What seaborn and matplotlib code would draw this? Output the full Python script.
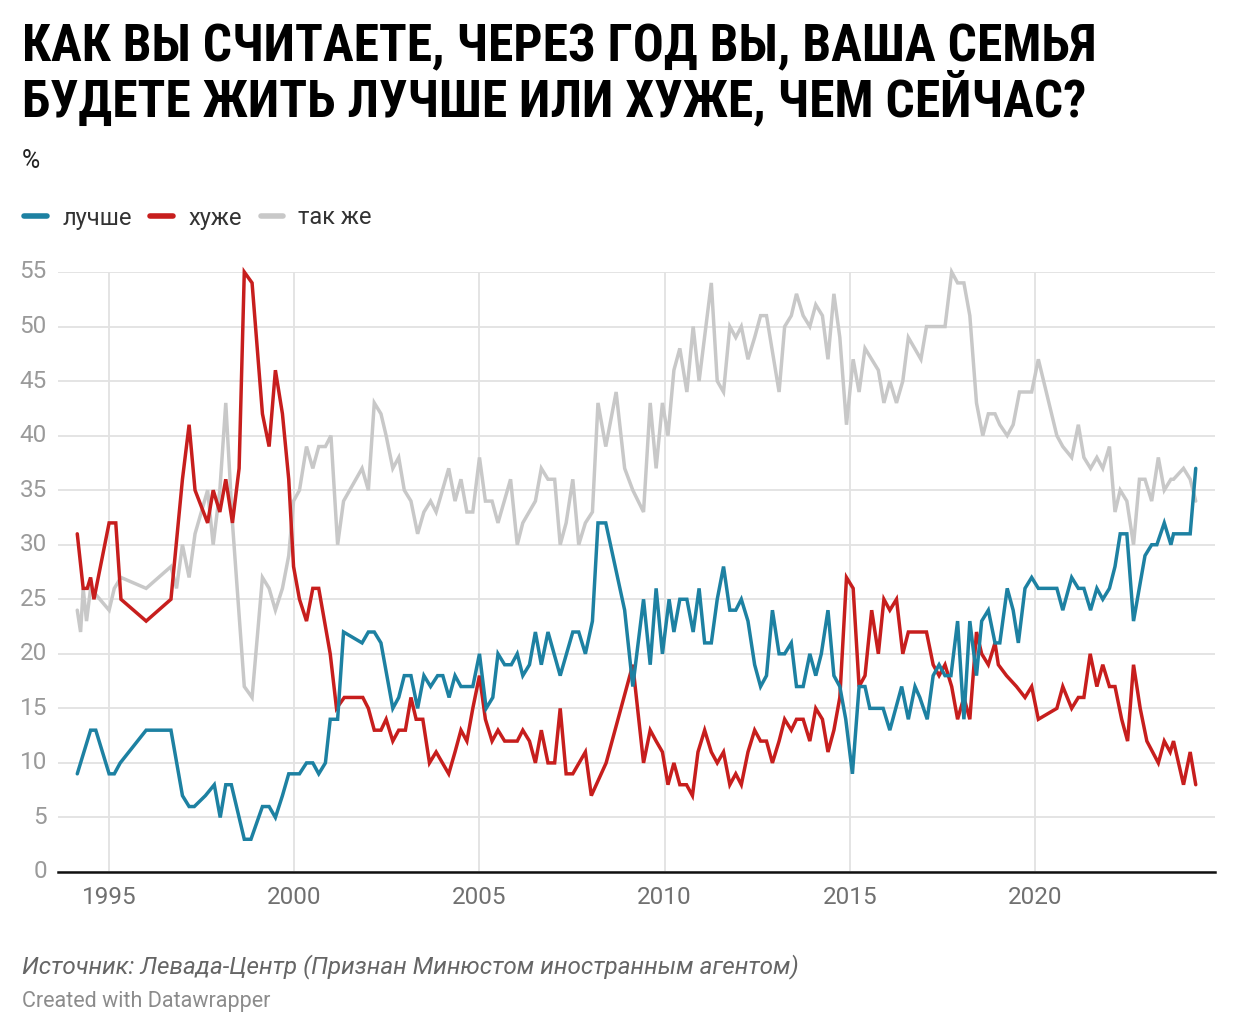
import matplotlib
matplotlib.use("Agg")
import matplotlib.pyplot as plt
import seaborn as sns
import pandas as pd
from matplotlib import font_manager
from matplotlib.lines import Line2D

# ---------------- data ----------------
better_year = [1994.14, 1994.5, 1994.64, 1995.0, 1995.14, 1995.3, 1996.0, 1996.67, 1996.98, 1997.16,
               1997.3, 1997.6, 1997.84, 1998.0, 1998.15, 1998.3, 1998.65, 1998.83, 1999.14, 1999.32,
               1999.49, 1999.68, 1999.85, 2000.14, 2000.33, 2000.5, 2000.66, 2000.84, 2000.97, 2001.17,
               2001.33, 2001.83, 2002.0, 2002.16, 2002.34, 2002.66, 2002.82, 2002.97, 2003.15, 2003.33,
               2003.5, 2003.68, 2003.87, 2004.01, 2004.18, 2004.34, 2004.5, 2004.82, 2005.0, 2005.18,
               2005.36, 2005.5, 2005.68, 2005.86, 2006.02, 2006.17, 2006.35, 2006.51, 2006.67, 2006.85,
               2007.18, 2007.52, 2007.68, 2007.86, 2008.05, 2008.2, 2008.41, 2008.92, 2009.14, 2009.43,
               2009.61, 2009.77, 2009.94, 2010.12, 2010.25, 2010.41, 2010.6, 2010.77, 2010.93, 2011.08,
               2011.26, 2011.42, 2011.59, 2011.76, 2011.92, 2012.07, 2012.25, 2012.43, 2012.59, 2012.75,
               2012.91, 2013.09, 2013.24, 2013.42, 2013.56, 2013.74, 2013.92, 2014.08, 2014.23, 2014.41,
               2014.57, 2014.73, 2014.89, 2015.07, 2015.25, 2015.41, 2015.54, 2015.9, 2016.08, 2016.4,
               2016.58, 2016.76, 2016.89, 2017.09, 2017.25, 2017.41, 2017.57, 2017.73, 2017.91, 2018.08,
               2018.24, 2018.42, 2018.56, 2018.74, 2018.92, 2019.05, 2019.25, 2019.41, 2019.55, 2019.73,
               2019.91, 2020.09, 2020.59, 2020.75, 2020.99, 2021.17, 2021.32, 2021.5, 2021.67, 2021.83,
               2022.01, 2022.16, 2022.3, 2022.48, 2022.66, 2022.97, 2023.15, 2023.29, 2023.49, 2023.67,
               2023.74, 2024.19, 2024.34]
better_val = [9, 13, 13, 9, 9, 10, 13, 13, 7, 6,
              6, 7, 8, 5, 8, 8, 3, 3, 6, 6,
              5, 7, 9, 9, 10, 10, 9, 10, 14, 14,
              22, 21, 22, 22, 21, 15, 16, 18, 18, 15,
              18, 17, 18, 18, 16, 18, 17, 17, 20, 15,
              16, 20, 19, 19, 20, 18, 19, 22, 19, 22,
              18, 22, 22, 20, 23, 32, 32, 24, 17, 25,
              19, 26, 20, 25, 22, 25, 25, 22, 26, 21,
              21, 25, 28, 24, 24, 25, 23, 19, 17, 18,
              24, 20, 20, 21, 17, 17, 20, 18, 20, 24,
              18, 17, 14, 9, 17, 17, 15, 15, 13, 17,
              14, 17, 16, 14, 18, 19, 18, 18, 23, 14,
              23, 18, 23, 24, 21, 21, 26, 24, 21, 26,
              27, 26, 26, 24, 27, 26, 26, 24, 26, 25,
              26, 28, 31, 31, 23, 29, 30, 30, 32, 30,
              31, 31, 37]

worse_year = [1994.14, 1994.3, 1994.41, 1994.5, 1994.59, 1995.0, 1995.18, 1995.32, 1996.0, 1996.67,
              1996.98, 1997.16, 1997.32, 1997.66, 1997.81, 1997.99, 1998.15, 1998.33, 1998.51, 1998.65,
              1998.86, 1999.14, 1999.32, 1999.49, 1999.68, 1999.85, 1999.98, 2000.14, 2000.33, 2000.5,
              2000.66, 2000.97, 2001.14, 2001.35, 2001.85, 2002.0, 2002.16, 2002.34, 2002.48, 2002.66,
              2002.82, 2003.0, 2003.15, 2003.29, 2003.47, 2003.65, 2003.83, 2004.17, 2004.34, 2004.5,
              2004.66, 2004.82, 2005.0, 2005.16, 2005.34, 2005.5, 2005.68, 2006.02, 2006.17, 2006.35,
              2006.51, 2006.67, 2006.85, 2007.03, 2007.18, 2007.34, 2007.52, 2007.86, 2008.02, 2008.42,
              2009.14, 2009.43, 2009.61, 2009.77, 2009.94, 2010.09, 2010.25, 2010.41, 2010.59, 2010.75,
              2010.9, 2011.08, 2011.26, 2011.42, 2011.59, 2011.76, 2011.92, 2012.07, 2012.25, 2012.43,
              2012.59, 2012.75, 2012.91, 2013.09, 2013.24, 2013.42, 2013.56, 2013.74, 2013.92, 2014.08,
              2014.26, 2014.41, 2014.57, 2014.73, 2014.91, 2015.09, 2015.25, 2015.41, 2015.59, 2015.77,
              2015.92, 2016.08, 2016.26, 2016.43, 2016.58, 2017.07, 2017.25, 2017.41, 2017.57, 2017.75,
              2017.91, 2018.08, 2018.24, 2018.42, 2018.56, 2018.74, 2018.92, 2019.01, 2019.23, 2019.5,
              2019.73, 2019.91, 2020.09, 2020.59, 2020.75, 2020.99, 2021.17, 2021.32, 2021.49, 2021.67,
              2021.83, 2022.01, 2022.16, 2022.34, 2022.5, 2022.66, 2022.84, 2023.02, 2023.33, 2023.49,
              2023.65, 2023.74, 2024.01, 2024.19, 2024.34]
worse_val = [31, 26, 26, 27, 25, 32, 32, 25, 23, 25,
             36, 41, 35, 32, 35, 33, 36, 32, 37, 55,
             54, 42, 39, 46, 42, 36, 28, 25, 23, 26,
             26, 20, 15, 16, 16, 15, 13, 13, 14, 12,
             13, 13, 16, 14, 14, 10, 11, 9, 11, 13,
             12, 15, 18, 14, 12, 13, 12, 12, 13, 12,
             10, 13, 10, 10, 15, 9, 9, 11, 7, 10,
             19, 10, 13, 12, 11, 8, 10, 8, 8, 7,
             11, 13, 11, 10, 11, 8, 9, 8, 11, 13,
             12, 12, 10, 12, 14, 13, 14, 14, 12, 15,
             14, 11, 13, 16, 27, 26, 17, 18, 24, 20,
             25, 24, 25, 20, 22, 22, 19, 18, 19, 17,
             14, 16, 14, 22, 20, 19, 21, 19, 18, 17,
             16, 17, 14, 15, 17, 15, 16, 16, 20, 17,
             19, 17, 17, 14, 12, 19, 15, 12, 10, 12,
             11, 12, 8, 11, 8]

same_year = [1994.14, 1994.23, 1994.3, 1994.39, 1994.5, 1995.0, 1995.14, 1995.32, 1996.0, 1996.67,
             1996.82, 1996.98, 1997.16, 1997.32, 1997.66, 1997.81, 1997.99, 1998.15, 1998.33, 1998.65,
             1998.86, 1999.14, 1999.32, 1999.49, 1999.68, 1999.85, 1999.98, 2000.14, 2000.33, 2000.5,
             2000.66, 2000.84, 2000.99, 2001.17, 2001.33, 2001.83, 2002.0, 2002.16, 2002.34, 2002.48,
             2002.66, 2002.82, 2002.97, 2003.15, 2003.33, 2003.5, 2003.68, 2003.83, 2004.17, 2004.34,
             2004.5, 2004.66, 2004.82, 2005.0, 2005.16, 2005.34, 2005.5, 2005.84, 2006.02, 2006.17,
             2006.51, 2006.67, 2006.85, 2007.03, 2007.18, 2007.34, 2007.52, 2007.68, 2007.86, 2008.05,
             2008.2, 2008.41, 2008.69, 2008.92, 2009.14, 2009.43, 2009.61, 2009.77, 2009.94, 2010.09,
             2010.25, 2010.41, 2010.6, 2010.77, 2010.93, 2011.26, 2011.42, 2011.59, 2011.76, 2011.92,
             2012.07, 2012.25, 2012.43, 2012.59, 2012.75, 2013.09, 2013.24, 2013.42, 2013.56, 2013.74,
             2013.92, 2014.08, 2014.26, 2014.41, 2014.57, 2014.73, 2014.91, 2015.09, 2015.25, 2015.41,
             2015.77, 2015.92, 2016.08, 2016.26, 2016.43, 2016.58, 2016.92, 2017.07, 2017.57, 2017.75,
             2017.91, 2018.08, 2018.24, 2018.42, 2018.59, 2018.74, 2018.92, 2019.05, 2019.25, 2019.41,
             2019.58, 2019.91, 2020.09, 2020.59, 2020.75, 2020.99, 2021.17, 2021.32, 2021.5, 2021.67,
             2021.83, 2022.01, 2022.16, 2022.3, 2022.48, 2022.66, 2022.82, 2022.97, 2023.15, 2023.33,
             2023.49, 2023.67, 2023.74, 2024.01, 2024.19, 2024.34]
same_val = [24, 22, 26, 23, 26, 24, 26, 27, 26, 28,
            26, 30, 27, 31, 35, 30, 35, 43, 32, 17,
            16, 27, 26, 24, 26, 29, 34, 35, 39, 37,
            39, 39, 40, 30, 34, 37, 35, 43, 42, 40,
            37, 38, 35, 34, 31, 33, 34, 33, 37, 34,
            36, 33, 33, 38, 34, 34, 32, 36, 30, 32,
            34, 37, 36, 36, 30, 32, 36, 30, 32, 33,
            43, 39, 44, 37, 35, 33, 43, 37, 43, 40,
            46, 48, 44, 50, 45, 54, 45, 44, 50, 49,
            50, 47, 49, 51, 51, 44, 50, 51, 53, 51,
            50, 52, 51, 47, 53, 49, 41, 47, 44, 48,
            46, 43, 45, 43, 45, 49, 47, 50, 50, 55,
            54, 54, 51, 43, 40, 42, 42, 41, 40, 41,
            44, 44, 47, 40, 39, 38, 41, 38, 37, 38,
            37, 39, 33, 35, 34, 30, 36, 36, 34, 38,
            35, 36, 36, 37, 36, 34]

series_names = ["лучше", "хуже", "так же"]
series_colors = ["#1d81a2", "#c71e1d", "#c8c8c8"]
y_ticks = [0, 5, 10, 15, 20, 25, 30, 35, 40, 45, 50, 55]
x_ticks = [1995, 2000, 2005, 2010, 2015, 2020]

title_lines = ["КАК ВЫ СЧИТАЕТЕ, ЧЕРЕЗ ГОД ВЫ, ВАША СЕМЬЯ",
               "БУДЕТЕ ЖИТЬ ЛУЧШЕ ИЛИ ХУЖЕ, ЧЕМ СЕЙЧАС?"]
unit_label = "%"
source_text = "Источник: Левада-Центр (Признан Минюстом иностранным агентом)"
credit_text = "Created with Datawrapper"

# ---------------- build frame ----------------
frames = []
for name, xs, ys in [(series_names[0], better_year, better_val),
                     (series_names[1], worse_year, worse_val),
                     (series_names[2], same_year, same_val)]:
    frames.append(pd.DataFrame({"year": xs, "value": ys, "series": name}))
df = pd.concat(frames, ignore_index=True)

# ---------------- style ----------------
sns.set_theme(style="white")
available = {f.name for f in font_manager.fontManager.ttflist}
body_font = "Roboto" if "Roboto" in available else "DejaVu Sans"
title_font = "Liberation Sans Narrow" if "Liberation Sans Narrow" in available else (
    "Roboto Condensed" if "Roboto Condensed" in available else "Liberation Sans")
plt.rcParams["font.family"] = [body_font, "DejaVu Sans"]

W, H = 1240, 1036
fig = plt.figure(figsize=(W / 100, H / 100), dpi=100)
fig.patch.set_facecolor("white")

L, R, T, B = 58, 1215, 272, 872
ax = fig.add_axes([L / W, 1 - B / H, (R - L) / W, (B - T) / H])

# draw lines: gray first (behind), then red, then blue
order = [series_names[2], series_names[1], series_names[0]]
palette = dict(zip(series_names, series_colors))
for name in order:
    sub = df[df["series"] == name]
    sns.lineplot(data=sub, x="year", y="value", color=palette[name], lw=2.5,
                 ax=ax, sort=False, estimator=None, legend=False)
for ln in ax.lines:
    ln.set_clip_on(False)
    ln.set_solid_joinstyle("miter")

ax.set_xlim(1993.62, 2024.86)
ax.set_ylim(0, 55)
ax.set_yticks(y_ticks)
ax.set_xticks(x_ticks)
ax.set_xlabel("")
ax.set_ylabel("")
ax.grid(True, color="#e2e2e2", lw=1.3)
ax.set_axisbelow(True)
for s in ["top", "right", "left"]:
    ax.spines[s].set_visible(False)
ax.spines["bottom"].set_color("#111111")
ax.spines["bottom"].set_linewidth(1.8)
ax.spines["bottom"].set_zorder(5)
ax.tick_params(axis="y", length=0, pad=8, labelsize=17.5, labelcolor="#9a9a9a")
ax.tick_params(axis="x", length=0, pad=10, labelsize=17.5, labelcolor="#707070")
for lab in ax.get_yticklabels():
    lab.set_va("center")

# ---------------- texts ----------------
t1 = fig.text(22 / W, 1 - 47 / H, title_lines[0], fontsize=34, fontweight="bold",
              family=[title_font, "DejaVu Sans"], color="#000000", va="center", ha="left")
t2 = fig.text(22 / W, 1 - 99 / H, title_lines[1], fontsize=34, fontweight="bold",
              family=[title_font, "DejaVu Sans"], color="#000000", va="center", ha="left")
# fit title width to reference (line 1 spans ~22..1098 px)
fig.canvas.draw()
rend = fig.canvas.get_renderer()
w1 = t1.get_window_extent(rend).width
scale = (1098 - 22) / w1
t1.set_fontsize(34 * scale)
t2.set_fontsize(34 * scale)

fig.text(22 / W, 1 - 161 / H, unit_label, fontsize=18, color="#222222", va="center", ha="left")

handles = [Line2D([0], [0], color=c, lw=4.0, solid_capstyle="round") for c in series_colors]
fig.legend(handles, series_names, loc="center left", bbox_to_anchor=(3 / W, 1 - 218 / H),
           ncol=3, frameon=False, fontsize=17, handlelength=0.95, handletextpad=0.65,
           columnspacing=0.8, labelcolor="#333333")

fig.text(22 / W, 1 - 967 / H, source_text, fontsize=17.5, style="italic", color="#666666",
         va="center", ha="left")
fig.text(22 / W, 1 - 1002 / H, credit_text, fontsize=15.5, color="#8c8c8c",
         va="center", ha="left")

fig.savefig("out.png", dpi=100, facecolor="white")
